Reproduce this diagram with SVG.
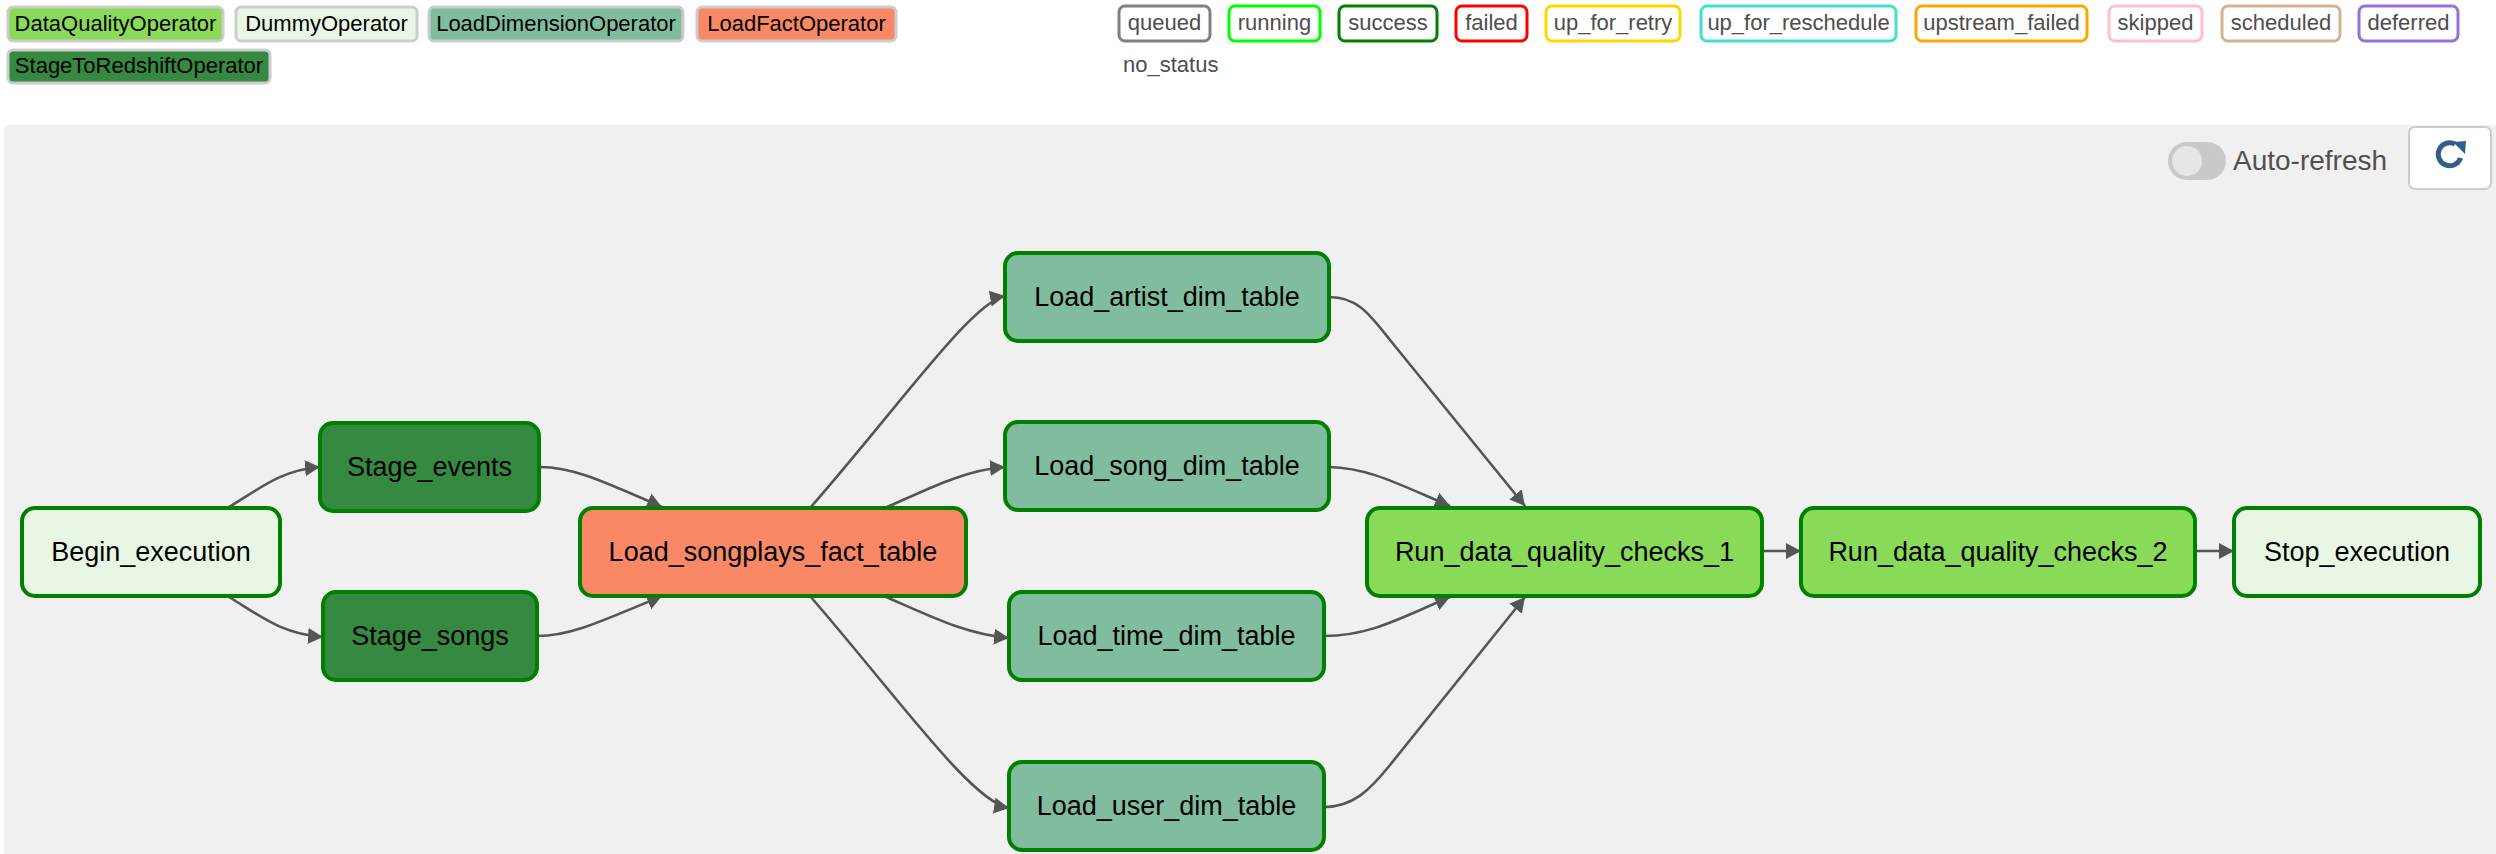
<svg xmlns="http://www.w3.org/2000/svg" width="2496" height="854" viewBox="0 0 2496 854">
<style>
text{font-family:"Liberation Sans",Arial,Helvetica,sans-serif}
.leg{stroke:#cccccc;stroke-width:3}
.legt{font-size:22px;fill:#000;text-anchor:middle}
.st{fill:#fff;stroke-width:3}
.stt{font-size:22px;fill:#4d4d4d;text-anchor:middle}
.node rect{stroke:#008000;stroke-width:4}
.node text{font-size:27px;fill:#000;text-anchor:middle}
.edge{fill:none;stroke:#555555;stroke-width:2.6}
</style>
<defs>
<marker id="arr" markerUnits="userSpaceOnUse" markerWidth="18" markerHeight="18" refX="15" refY="8" orient="auto">
<path d="M0,0 L15,8 L0,16 z" fill="#555555"/>
</marker>
</defs>
<rect width="2496" height="854" fill="#ffffff"/>
<g id="legend-operators">
<rect class="leg" x="8" y="7" width="215" height="34" rx="5" fill="#89da59"/><text class="legt" x="115.5" y="31">DataQualityOperator</text>
<rect class="leg" x="236" y="7" width="181" height="34" rx="5" fill="#e8f7e4"/><text class="legt" x="326.5" y="31">DummyOperator</text>
<rect class="leg" x="429" y="7" width="254" height="34" rx="5" fill="#80bd9e"/><text class="legt" x="556" y="31">LoadDimensionOperator</text>
<rect class="leg" x="697" y="7" width="199" height="34" rx="5" fill="#f98866"/><text class="legt" x="796.5" y="31">LoadFactOperator</text>
<rect class="leg" x="8" y="50" width="262" height="33" rx="5" fill="#358940"/><text class="legt" x="139" y="73">StageToRedshiftOperator</text>
</g>
<g id="legend-states">
<rect class="st" x="1119" y="6" width="91" height="35" rx="6" stroke="#808080"/><text class="stt" x="1164.5" y="30">queued</text>
<rect class="st" x="1229" y="6" width="91" height="35" rx="6" stroke="#00ff00"/><text class="stt" x="1274.5" y="30">running</text>
<rect class="st" x="1339" y="6" width="98" height="35" rx="6" stroke="#008000"/><text class="stt" x="1388" y="30">success</text>
<rect class="st" x="1456" y="6" width="71" height="35" rx="6" stroke="#ff0000"/><text class="stt" x="1491.5" y="30">failed</text>
<rect class="st" x="1546" y="6" width="134" height="35" rx="6" stroke="#ffd700"/><text class="stt" x="1613" y="30">up_for_retry</text>
<rect class="st" x="1701" y="6" width="195" height="35" rx="6" stroke="#40e0d0"/><text class="stt" x="1798.5" y="30">up_for_reschedule</text>
<rect class="st" x="1916" y="6" width="171" height="35" rx="6" stroke="#ffa500"/><text class="stt" x="2001.5" y="30">upstream_failed</text>
<rect class="st" x="2109" y="6" width="93" height="35" rx="6" stroke="#ffc0cb"/><text class="stt" x="2155.5" y="30">skipped</text>
<rect class="st" x="2222" y="6" width="118" height="35" rx="6" stroke="#d2b48c"/><text class="stt" x="2281" y="30">scheduled</text>
<rect class="st" x="2359" y="6" width="99" height="35" rx="6" stroke="#9370db"/><text class="stt" x="2408.5" y="30">deferred</text>
<text x="1123" y="72" font-size="22" fill="#4d4d4d">no_status</text>
</g>
<rect id="panel" x="4" y="125" width="2500" height="740" rx="6" fill="#f0f0f0"/>
<g id="auto-refresh">
<rect x="2168" y="142" width="58" height="38" rx="19" fill="#c9c9c9"/>
<circle cx="2187" cy="161" r="15" fill="#e6e6e6"/>
<text x="2233" y="170" font-size="28" fill="#51504f">Auto-refresh</text>
</g>
<g id="refresh-button">
<rect x="2409" y="127" width="82" height="62" rx="6" fill="#ffffff" stroke="#cccccc" stroke-width="2"/>
<path d="M2460.6,158 A11.5,11.5 0 1 1 2455,144" fill="none" stroke="#305f8a" stroke-width="5"/>
<path d="M2453,142 L2466,141 L2465,154 z" fill="#305f8a"/>
</g>
<g id="edges">
<path class="edge" marker-end="url(#arr)" d="M229,507 C262,487 282,470 320,467"/>
<path class="edge" marker-end="url(#arr)" d="M229,597 C262,617 282,634 323,637"/>
<path class="edge" marker-end="url(#arr)" d="M540,467 C572,467 600,480 662,507"/>
<path class="edge" marker-end="url(#arr)" d="M537,636 C570,636 600,622 662,596"/>
<path class="edge" marker-end="url(#arr)" d="M810,508 C900,405 972,302 1005,296"/>
<path class="edge" marker-end="url(#arr)" d="M885,508 C930,488 965,470 1005,467"/>
<path class="edge" marker-end="url(#arr)" d="M884,596 C930,616 965,634 1009,638"/>
<path class="edge" marker-end="url(#arr)" d="M810,596 C900,700 972,802 1009,808"/>
<path class="edge" marker-end="url(#arr)" d="M1329,297 C1358,297 1370,315 1390,340 L1525,506"/>
<path class="edge" marker-end="url(#arr)" d="M1329,467 C1370,468 1400,485 1450,506"/>
<path class="edge" marker-end="url(#arr)" d="M1324,636 C1370,636 1400,618 1450,597"/>
<path class="edge" marker-end="url(#arr)" d="M1324,807 C1353,807 1370,790 1390,765 L1525,597"/>
<path class="edge" marker-end="url(#arr)" d="M1762,551 L1801,551"/>
<path class="edge" marker-end="url(#arr)" d="M2195,551 L2234,551"/>
</g>
<g id="node-begin" class="node"><rect x="22" y="508" width="258" height="88" rx="13" fill="#e8f7e4"/><text x="151" y="561">Begin_execution</text></g>
<g id="node-stage-events" class="node"><rect x="320" y="423" width="219" height="88" rx="13" fill="#358940"/><text x="429.5" y="476">Stage_events</text></g>
<g id="node-stage-songs" class="node"><rect x="323" y="592" width="214" height="88" rx="13" fill="#358940"/><text x="430" y="645">Stage_songs</text></g>
<g id="node-songplays" class="node"><rect x="580" y="508" width="386" height="88" rx="13" fill="#f98866"/><text x="773" y="561">Load_songplays_fact_table</text></g>
<g id="node-artist" class="node"><rect x="1005" y="253" width="324" height="88" rx="13" fill="#80bd9e"/><text x="1167" y="306">Load_artist_dim_table</text></g>
<g id="node-song" class="node"><rect x="1005" y="422" width="324" height="88" rx="13" fill="#80bd9e"/><text x="1167" y="475">Load_song_dim_table</text></g>
<g id="node-time" class="node"><rect x="1009" y="592" width="315" height="88" rx="13" fill="#80bd9e"/><text x="1166.5" y="645">Load_time_dim_table</text></g>
<g id="node-user" class="node"><rect x="1009" y="762" width="315" height="88" rx="13" fill="#80bd9e"/><text x="1166.5" y="815">Load_user_dim_table</text></g>
<g id="node-rdq1" class="node"><rect x="1367" y="508" width="395" height="88" rx="13" fill="#89da59"/><text x="1564.5" y="561">Run_data_quality_checks_1</text></g>
<g id="node-rdq2" class="node"><rect x="1801" y="508" width="394" height="88" rx="13" fill="#89da59"/><text x="1998" y="561">Run_data_quality_checks_2</text></g>
<g id="node-stop" class="node"><rect x="2234" y="508" width="246" height="88" rx="13" fill="#e8f7e4"/><text x="2357" y="561">Stop_execution</text></g>
</svg>
